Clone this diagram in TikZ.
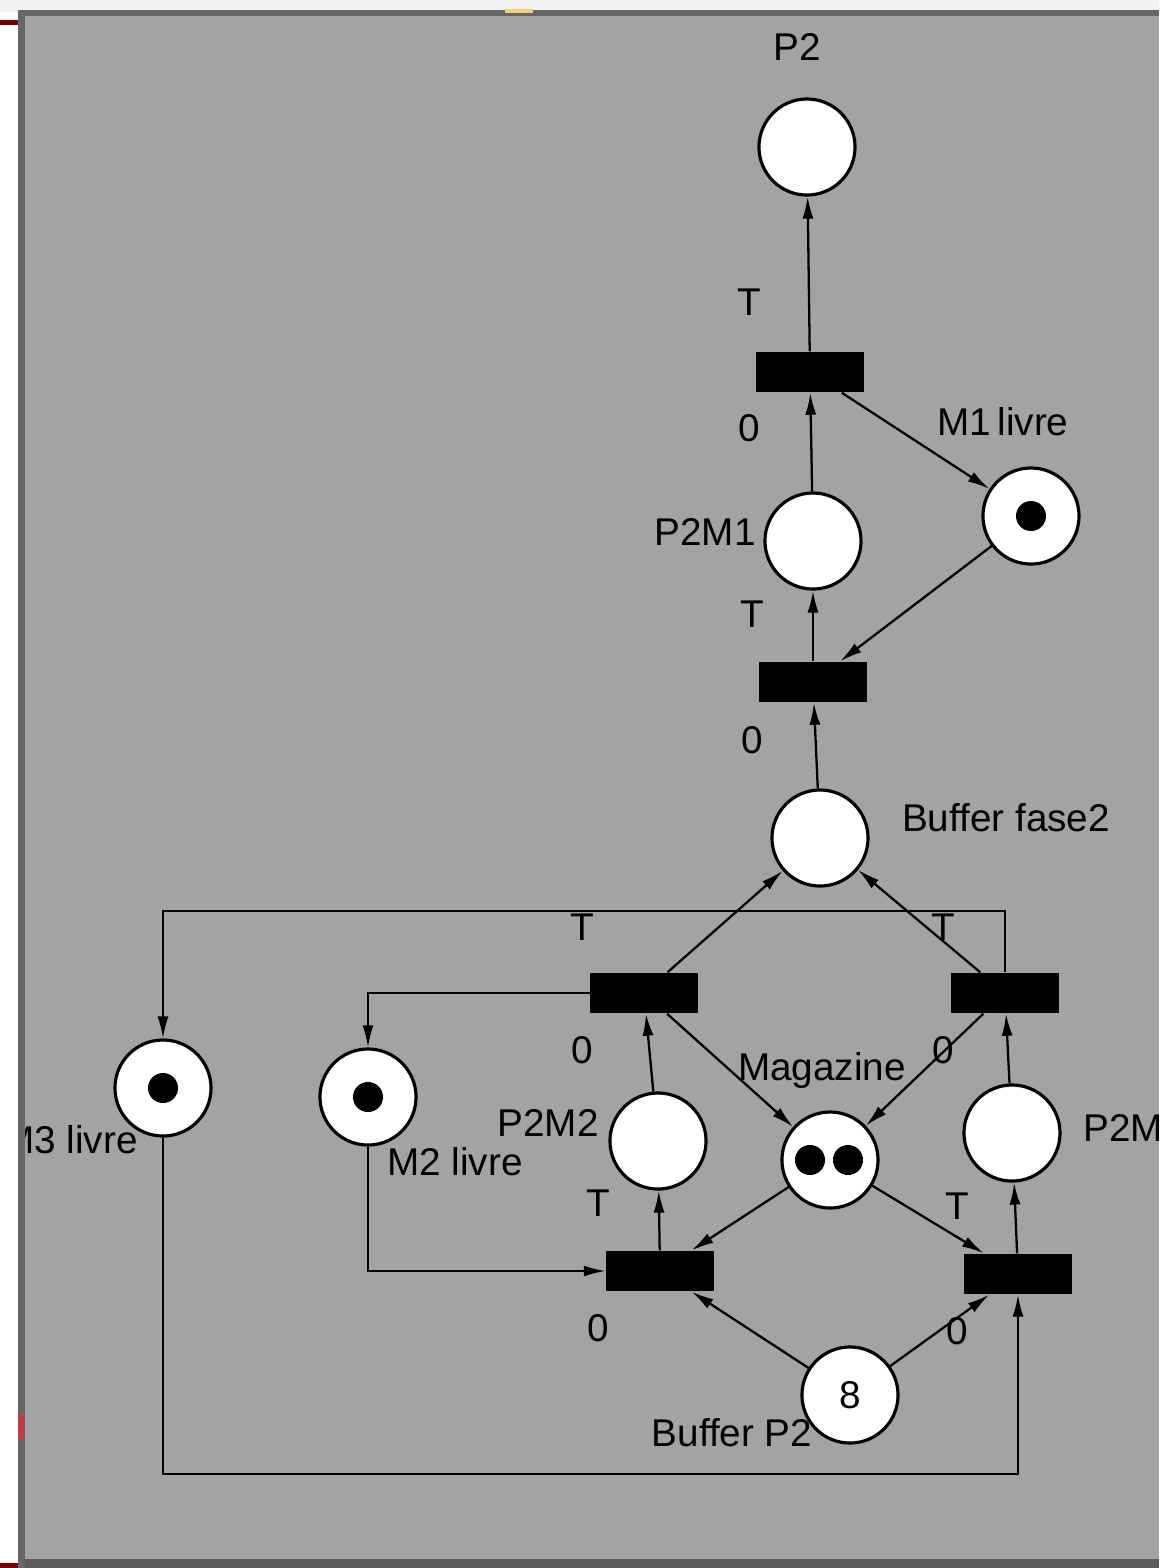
\documentclass[tikz,border=0pt]{standalone}
\usepackage{fontspec}
\setmainfont{Liberation Sans}
\usetikzlibrary{arrows.meta}
\definecolor{bg-gray}{HTML}{A3A3A3}
\definecolor{frame-dark}{HTML}{666666}
\definecolor{strip-dark}{HTML}{5C5C5C}
\definecolor{top-light}{HTML}{F2F2F2}
\definecolor{dark-red}{HTML}{7A0000}
\definecolor{bright-red}{HTML}{C83A3A}
\definecolor{mark-gold}{HTML}{F5D27A}
\tikzset{
  place/.style={circle, draw=black, fill=white, line width=0.9pt,
                minimum size=0.96cm, inner sep=0pt},
  trans/.style={rectangle, fill=black, minimum width=1.07cm,
                minimum height=0.40cm, inner sep=0pt},
  tok/.style={circle, fill=black, minimum size=0.30cm, inner sep=0pt},
  flow/.style={line width=0.65pt, -{Latex[length=0.22cm, width=0.11cm]}},
  lbl/.style={inner sep=0pt}
}
\begin{document}
\begin{tikzpicture}[x=0.01cm, y=-0.01cm,
        every node/.style={font=\fontsize{11}{13}\selectfont}]
  \useasboundingbox (0,0) rectangle (1159,1568);
  % window background
  \fill[top-light] (0,0) rectangle (1159,12);
  \fill[white] (0,12) rectangle (18,1568);
  \fill[dark-red] (0,20) rectangle (18,25);
  \fill[dark-red] (0,1563) rectangle (18,1568);
  \fill[frame-dark] (18,10) rectangle (1159,1568);
  \fill[bg-gray] (25,16) rectangle (1159,1559);
  \fill[strip-dark] (25,1559) rectangle (1159,1568);
  \fill[bright-red] (18,1413) rectangle (24,1439);
  \fill[mark-gold] (505,9) rectangle (533,13);
  \begin{scope}
    \clip (25,16) rectangle (1159,1559);
    % places
    \node[place] (P2) at (807,147) {};
    \node[place] (M1) at (1031,516) {};
    \node[place] (P2M1) at (813,541) {};
    \node[place] (BF2) at (820,838) {};
    \node[place] (M3) at (163,1088) {};
    \node[place] (M2) at (368,1097) {};
    \node[place] (P2M2) at (658,1141) {};
    \node[place] (MAG) at (830,1160) {};
    \node[place] (P2M3) at (1012,1133) {};
    \node[place] (BP2) at (850,1395) {8};
    % tokens
    \node[tok] (tokM1) at (M1) {};
    \node[tok] (tokM3) at (M3) {};
    \node[tok] (tokM2) at (M2) {};
    \node[tok] (tokMagA) at (810,1160) {};
    \node[tok] (tokMagB) at (848,1160) {};
    % transitions
    \node[trans] (T1) at (810,372) {};
    \node[trans] (T2) at (813,682) {};
    \node[trans] (T3) at (644,993) {};
    \node[trans] (T4) at (1005,993) {};
    \node[trans] (T5) at (660,1271) {};
    \node[trans] (T6) at (1018,1274) {};
    % place labels
    \node[lbl] (lP2) at (797,47) {P2};
    \node[lbl] (lM1) at (1003,422) {M1\,livre};
    \node[lbl] (lP2M1) at (705,532) {P2M1};
    \node[lbl] (lBF2) at (1006,818) {Buffer fase2};
    \node[lbl] (lM3) at (70,1140) {M3 livre};
    \node[lbl] (lM2) at (455,1162) {M2 livre};
    \node[lbl] (lP2M2) at (548,1123) {P2M2};
    \node[lbl] (lMAG) at (822,1070) {Magazine};
    \node[lbl] (lP2M3) at (1134,1128) {P2M3};
    \node[lbl] (lBP2) at (732,1433) {Buffer P2};
    % transition labels
    \node[lbl] (tT1) at (749,302) {T};  \node[lbl] (zT1) at (749,428) {0};
    \node[lbl] (tT2) at (752,614) {T};  \node[lbl] (zT2) at (752,740) {0};
    \node[lbl] (tT3) at (582,927) {T};  \node[lbl] (zT3) at (582,1050) {0};
    \node[lbl] (tT4) at (943,927) {T};  \node[lbl] (zT4) at (943,1050) {0};
    \node[lbl] (tT5) at (598,1203) {T}; \node[lbl] (zT5) at (598,1328) {0};
    \node[lbl] (tT6) at (957,1206) {T}; \node[lbl] (zT6) at (957,1331) {0};
    % arcs
    \draw[flow] (T1) -- (P2);
    \draw[flow] (T1) -- (M1);
    \draw[flow] (P2M1) -- (T1);
    \draw[flow] (T2) -- (P2M1);
    \draw[flow] (M1) -- (T2);
    \draw[flow] (BF2) -- (T2);
    \draw[flow] (T3) -- (BF2);
    \draw[flow] (T4) -- (BF2);
    \draw[flow] (T4) -- (T4 |- 0,911) -| (M3);
    \draw[flow] (T3) -| (M2);
    \draw[flow] (T3) -- (MAG);
    \draw[flow] (T4) -- (MAG);
    \draw[flow] (P2M2) -- (T3);
    \draw[flow] (P2M3) -- (T4);
    \draw[flow] (T5) -- (P2M2);
    \draw[flow] (T6) -- (P2M3);
    \draw[flow] (MAG) -- (T5);
    \draw[flow] (MAG) -- (T6);
    \draw[flow] (BP2) -- (T5);
    \draw[flow] (BP2) -- (T6);
    \draw[flow] (M2) |- (T5);
    \draw[flow] (M3) -- (M3 |- 0,1474) -| (T6);
  \end{scope}
\end{tikzpicture}
\end{document}
